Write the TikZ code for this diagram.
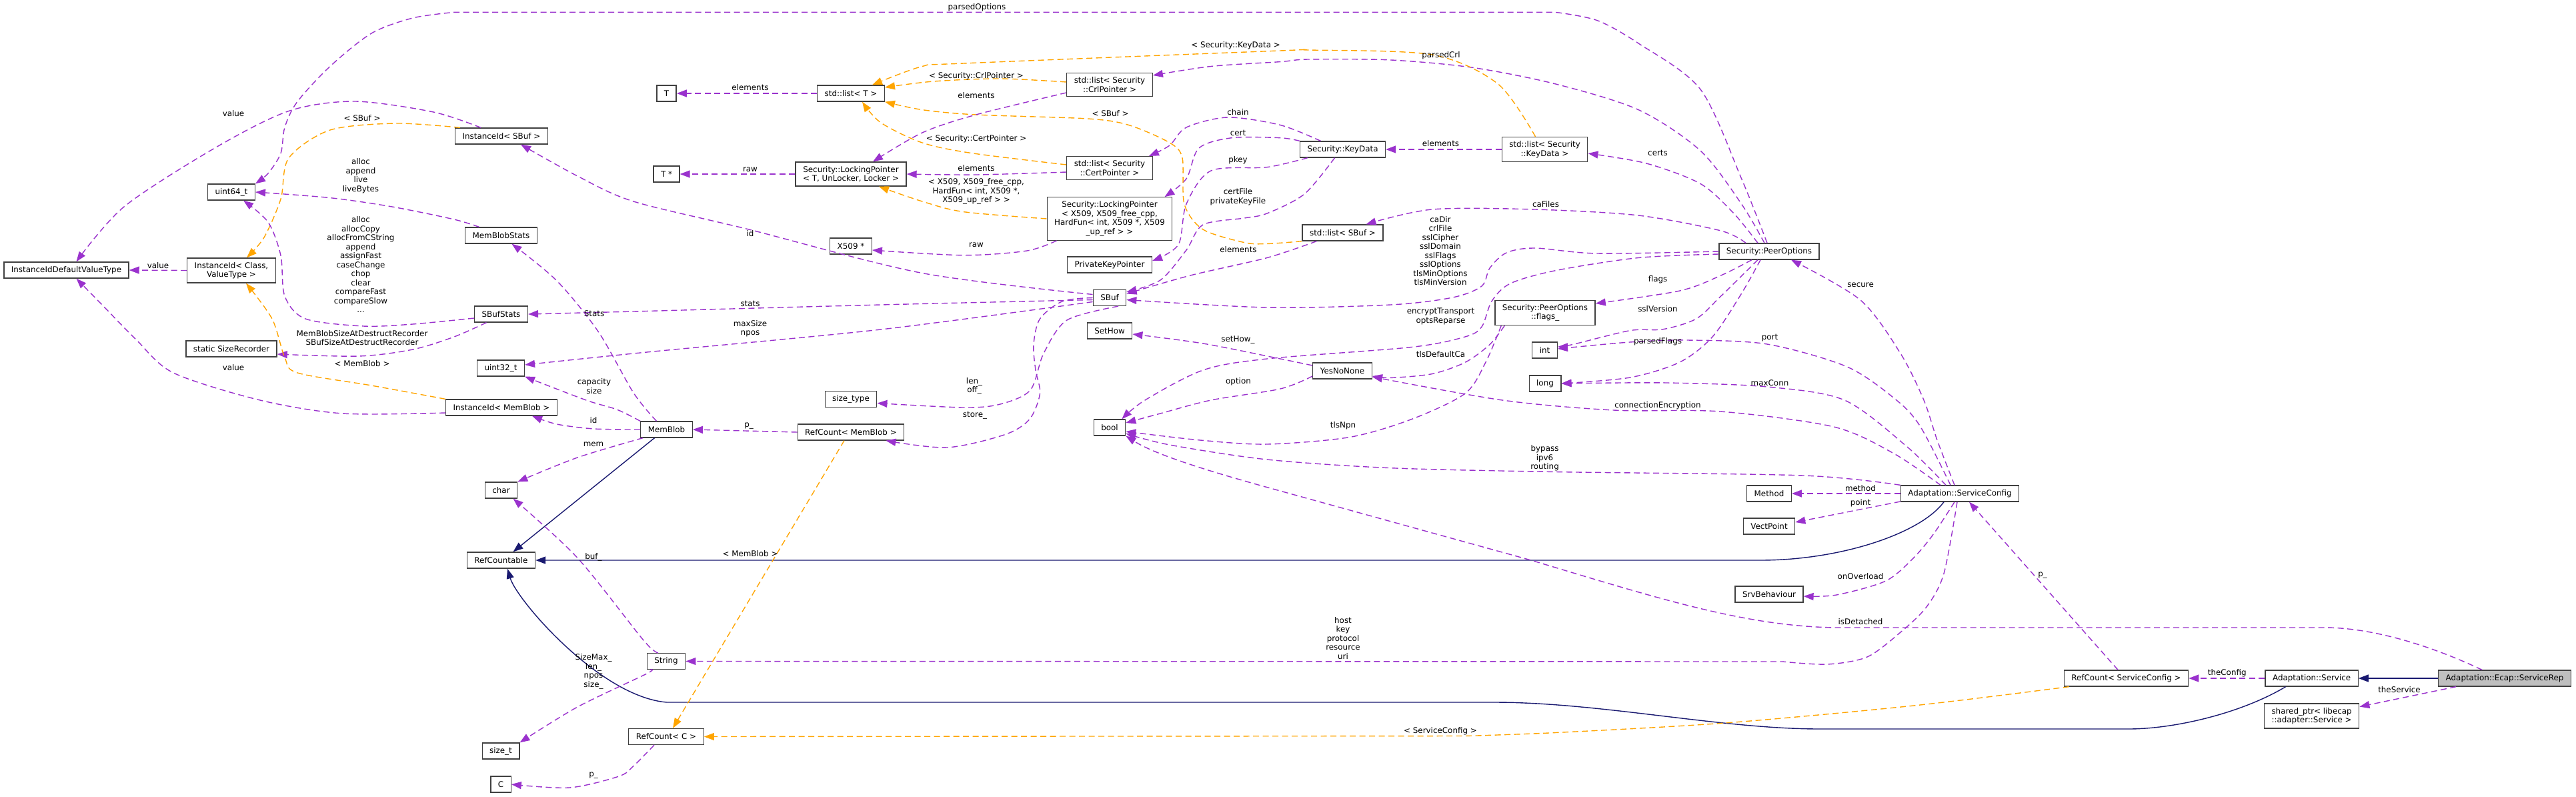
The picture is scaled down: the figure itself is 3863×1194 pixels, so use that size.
\documentclass[tikz,border=0pt]{standalone}
\usepackage{fontspec}
\setmainfont{DejaVu Sans}
\usetikzlibrary{arrows.meta,calc}
\definecolor{dgpurp}{HTML}{9A32CD}
\definecolor{dgorange}{HTML}{FFA500}
\definecolor{dgblue}{HTML}{191970}
\definecolor{dgborder}{HTML}{404040}
\definecolor{dggray}{HTML}{BFBFBF}
\newcommand\dgfont{\fontsize{11.9}{13.5}\selectfont}
\tikzset{
  cls/.style={draw=dgborder, line width=1.3pt, fill=white, font=\dgfont, align=center,
    inner xsep=11pt, inner ysep=6pt, minimum height=24pt},
  lbl/.style={font=\dgfont, align=center, inner sep=0pt},
  mem/.style={draw=dgpurp, line width=1.4pt, dash pattern=on 9pt off 5.5pt,
    -{Triangle[length=15pt,width=11pt]}},
  tmpl/.style={draw=dgorange, line width=1.4pt, dash pattern=on 9pt off 5.5pt,
    -{Triangle[length=15pt,width=11pt]}},
  inh/.style={draw=dgblue, line width=1.4pt, -{Triangle[length=15pt,width=11pt]}}
}
\begin{document}
\begin{tikzpicture}[x=1pt,y=-1pt]
\path[fill=white] (0,0) rectangle (3863,1194);
\useasboundingbox (0,0) rectangle (3863,1194);
% ---------------- nodes ----------------
\node[cls] (ividvt) at (99.5,405) {InstanceIdDefaultValueType};
\node[cls] (uint64) at (347,288) {uint64\_t};
\node[cls] (iidcv) at (347,405.5) {InstanceId< Class,\\ValueType >};
\node[cls] (sizerec) at (347,523) {static SizeRecorder};
\node[cls] (iidsbuf) at (752,204) {InstanceId< SBuf >};
\node[cls] (mbstats) at (751.5,353) {MemBlobStats};
\node[cls] (sbufstats) at (751.5,471) {SBufStats};
\node[cls] (uint32) at (751,552) {uint32\_t};
\node[cls] (iidmb) at (752,611) {InstanceId< MemBlob >};
\node[cls] (char) at (751.5,735) {char};
\node[cls] (refcountable) at (751.5,840) {RefCountable};
\node[cls] (sizet) at (751,1126) {size\_t};
\node[cls] (C) at (751,1176) {C};
\node[cls] (T) at (999.5,140) {T};
\node[cls] (Tstar) at (999.5,261) {T *};
\node[cls] (memblob) at (999.5,644) {MemBlob};
\node[cls] (string) at (999,991.5) {String};
\node[cls] (refcountC) at (999,1104.5) {RefCount< C >};
\node[cls] (listT) at (1276,140) {std::list< T >};
\node[cls] (lockT) at (1276,261) {Security::LockingPointer\\< T, UnLocker, Locker >};
\node[cls] (x509) at (1276,369) {X509 *};
\node[cls] (sizetype) at (1276,598.5) {size\_type};
\node[cls] (refcountMB) at (1276,648) {RefCount< MemBlob >};
\node[cls] (listCrl) at (1664,127) {std::list< Security\\::CrlPointer >};
\node[cls] (listCert) at (1664,252) {std::list< Security\\::CertPointer >};
\node[cls] (lockX) at (1664,328) {Security::LockingPointer\\< X509, X509\_free\_cpp,\\HardFun< int, X509 *, X509\\\_up\_ref > >};
\node[cls] (pkp) at (1664,397) {PrivateKeyPointer};
\node[cls] (sbuf) at (1664,446.5) {SBuf};
\node[cls] (sethow) at (1664,496) {SetHow};
\node[cls] (bool) at (1664,641) {bool};
\node[cls] (keydata) at (2013.5,224) {Security::KeyData};
\node[cls] (listSBuf) at (2013.5,349) {std::list< SBuf >};
\node[cls] (yesno) at (2013,556) {YesNoNone};
\node[cls] (listKey) at (2316.5,224) {std::list< Security\\::KeyData >};
\node[cls] (flags) at (2317,469) {Security::PeerOptions\\::flags\_};
\node[cls] (int) at (2316.5,525) {int};
\node[cls] (long) at (2317,575) {long};
\node[cls] (peeropts) at (2653,377) {Security::PeerOptions};
\node[cls] (method) at (2653,740) {Method};
\node[cls] (vectpoint) at (2653,789) {VectPoint};
\node[cls] (srvbeh) at (2653,891) {SrvBehaviour};
\node[cls] (svccfg) at (2939,740) {Adaptation::ServiceConfig};
\node[cls] (rcsvc) at (3188.5,1017) {RefCount< ServiceConfig >};
\node[cls] (svc) at (3466.6,1017) {Adaptation::Service};
\node[cls] (sharedptr) at (3466.6,1073.6) {shared\_ptr< libecap\\::adapter::Service >};
\node[cls, fill=dggray] (rep) at (3756,1017) {Adaptation::Ecap::ServiceRep};
% ---------------- edges ----------------
% left cluster
\draw[mem] plot[smooth] coordinates {($(iidsbuf.north)+(-31,0)$) (650,168) (532,152) (433,166.5) (322,222) (186,310) ($(ividvt.north)+(15,0)$)};
\draw[tmpl] plot[smooth] coordinates {($(iidsbuf.north)+(-62,0)$) (594,185) (495,195) (433,237) (421,298.5) (396,356) ($(iidcv.north)+(23,0)$)};
\draw[mem] plot[smooth] coordinates {($(mbstats.north)+(-33,0)$) (681,329) (588,310) (495,296.6) (uint64.east)};
\draw[mem] plot[smooth] coordinates {($(sbufstats.west)+(0,6)$) (619,486) (545,489) (458,478) (427,444) (421,383) (402,333) ($(uint64.south)+(18,0)$)};
\draw[mem] (iidcv.west) -- (ividvt.east);
\draw[mem] plot[smooth] coordinates {($(sbufstats.south)+(-22,0)$) (681,505) (619,524) (538,534) ($(sizerec.east)+(0,8)$)};
\draw[mem] plot[smooth] coordinates {($(iidmb.west)+(0,8)$) (514,620) (390,600) (260,559) (204,509) (155,459) ($(ividvt.south)+(15,0)$)};
\draw[tmpl] plot[smooth] coordinates {(iidmb.north west) (557,578) (446,559) (427,536) (408,478) ($(iidcv.south)+(22,0)$)};
\draw[mem] plot[smooth] coordinates {($(sbuf.west)+(0,3)$) (1321,457) (950,467) (sbufstats.east)};
\draw[mem] plot[smooth] coordinates {($(memblob.north)+(-15,0)$) (950,589) (897,497) (835,421) ($(mbstats.south)+(16,0)$)};
\draw[mem] plot[smooth] coordinates {($(sbuf.west)+(0,6)$) (1321,494) (970,528) ($(uint32.east)+(0,-5)$)};
\draw[mem] plot[smooth] coordinates {(memblob.north west) (925,614) (879,600) (uint32.south east)};
\draw[mem] plot[smooth] coordinates {(memblob.west) (891,643) (835,636) ($(iidmb.south)+(46,0)$)};
\draw[mem] plot[smooth] coordinates {($(memblob.south west)+(4,0)$) (866,686) (char.north east)};
\draw[inh] ($(memblob.south)+(-18,0)$) -- ($(refcountable.north)+(18,0)$);
\draw[mem] plot[smooth] coordinates {($(string.north)+(-12,0)$) (965,960) (866,836.5) ($(char.south)+(18,0)$)};
\draw[inh] ($(svccfg.south)+(-24,0)$) .. controls (2880,800) and (2760,840) .. (2640,840) -- (refcountable.east);
\draw[inh] ($(svc.south)+(-39,0)$) .. controls (3360,1070) and (3260,1093) .. (3192,1093) -- (2729,1093)
   .. controls (2580,1093) and (2400,1053) .. (2240,1053) -- (1000,1053)
   .. controls (900,1045) and (775,900) .. ($(refcountable.south)+(9.5,0)$);
\draw[mem] plot[smooth] coordinates {($(svccfg.south)+(-4,0)$) (2915,860) (2889,910) (2850,948) (2800,985) (2740,996) (2673,992)} -- (string.east);
\draw[mem] plot[smooth] coordinates {($(string.south)+(-24,0)$) (970,1010) (866,1060) (sizet.north east)};
\draw[mem] plot[smooth] coordinates {($(refcountC.south)+(-18,0)$) (950,1148.5) (928,1164) (854,1181) (C.east)};
\draw[mem] (refcountMB.west) -- (memblob.east);
\draw[tmpl] ($(refcountMB.south)+(-10,0)$) -- ($(refcountC.north)+(10,0)$);
\draw[tmpl] plot[smooth] coordinates {($(rcsvc.south west)+(8,0)$) (2870,1058) (2587,1084) (2333,1098.5) (2197,1103.5)} -- (refcountC.east);
\draw[mem] ($(rcsvc.north)+(-12.5,0)$) -- ($(svccfg.south)+(14,0)$);
\draw[mem] (svc.west) -- (rcsvc.east);
\draw[inh] (rep.west) -- (svc.east);
\draw[mem] ($(rep.south)+(-73,0)$) -- ($(sharedptr.east)+(0,-14)$);
\draw[mem] ($(rep.north)+(-34,0)$) .. controls (3650,970) and (3560,941) .. (3486,941) -- (2760,941)
   .. controls (2620,941) and (2480,895) .. (2296,840) -- (1900,730.6)
   .. controls (1800,703) and (1730,680) .. (bool.south east);
% ServiceConfig members
\draw[mem] plot[smooth] coordinates {(svccfg.north west) (2704,713) (2333,707.5) (2086,701.7) (1900,689) (1754,667) ($(bool.east)+(0,9)$)};
\draw[mem] plot[smooth] coordinates {($(svccfg.north)+(-29,0)$) (2840,680) (2750,640) (2580,617) (2420,615) (2253,600) ($(yesno.east)+(0,9)$)};
\draw[mem] plot[smooth] coordinates {($(svccfg.north)+(-21,0)$) (2860,670) (2766,600) (2650,580) (2500,574) (long.east)};
\draw[mem] plot[smooth] coordinates {($(svccfg.north)+(-14,0)$) (2880,640) (2844,600) (2770,550) (2650,516) (2530,510) (2444,513) ($(int.east)+(0,-2)$)};
\draw[mem] plot[smooth] coordinates {($(svccfg.north)+(-8,0)$) (2905,660) (2885,600) (2850,530) (2790,450) ($(peeropts.south)+(33,0)$)};
\draw[mem] (svccfg.west) -- (method.east);
\draw[mem] ($(svccfg.west)+(0,12)$) -- ($(vectpoint.east)+(0,-6)$);
\draw[mem] plot[smooth] coordinates {($(svccfg.south)+(-8,0)$) (2900,800) (2870,836) (2828,871) (2754,892) ($(srvbeh.east)+(0,3)$)};
% PeerOptions members
\draw[mem] plot[smooth] coordinates {($(peeropts.north)+(-17,0)$) (2600,320) (2550,275.5) (2469,245) ($(listKey.east)+(0,6)$)};
\draw[mem] plot[smooth] coordinates {($(peeropts.north)+(-35,0)$) (2580.7,346) (2457,323) (2302,314) (2147.5,314) ($(listSBuf.north)+(35,0)$)};
\draw[mem] plot[smooth] coordinates {($(peeropts.north)+(-7,0)$) (2611.6,306) (2550,226) (2457,164.6) (2333,126) (2209,101.4) (2086,90) (1962,89) (1920,92.6) (1816,99.5) ($(listCrl.east)+(0,-14)$)};
\draw[mem] plot[smooth] coordinates {($(peeropts.north)+(-3,0)$) (2611.6,268) (2550,134) (2457,65) (2395,30.6) (2333,18.4)} -- plot[smooth] coordinates {(680.7,18.4) (619,27) (557,50) (495,99.5) (445.5,153) (427,191) (421,230) (402,260) (uint64.north east)};
\draw[mem] plot[smooth] coordinates {(peeropts.west) (2395,380) (2302,372) (2259,379) (2234,402) (2222,429) (2178.5,446) (2085.6,457) (1900,461) ($(sbuf.east)+(0,3)$)};
\draw[mem] plot[smooth] coordinates {($(peeropts.west)+(0,4)$) (2457,386.5) (2333,405.6) (2265,425) (2237,451.6) (2222,490) (2197,505) (2116.6,520.5) (1900,538) (1804,555) (1717,600) ($(bool.north east)+(-6,0)$)};
\draw[mem] plot[smooth] coordinates {($(peeropts.south)+(-26,0)$) (2580.7,413) (2519,436) ($(flags.east)+(0,-14)$)};
\draw[mem] plot[smooth] coordinates {($(peeropts.south)+(-17,0)$) (2580.7,444) (2543.6,478) (2494,493.7) (2444.6,495.6) (2358,516.6) ($(int.east)+(0,-5)$)};
\draw[mem] plot[smooth] coordinates {($(peeropts.south)+(-13,0)$) (2611.6,440) (2568,505) (2519,543) (2444.6,566) (long.east)};
% YesNoNone, flags_
\draw[mem] plot[smooth] coordinates {($(yesno.west)+(0,-8)$) (1920,538) (1804,515) ($(sethow.east)+(0,5)$)};
\draw[mem] plot[smooth] coordinates {($(yesno.west)+(0,8)$) (1920,583) (1816,600) (1740,620) ($(bool.east)+(0,-7)$)};
\draw[mem] plot[smooth] coordinates {($(flags.south west)+(15,0)$) (2234,516.6) (2197,543.4) (2147.5,560.6) (2086,566.4) ($(yesno.east)+(0,8)$)};
\draw[mem] plot[smooth] coordinates {($(flags.south west)+(10,0)$) (2228,543) (2197,590) (2117,628.5) (2024,655.5) (1900,666) (1800,660) ($(bool.east)+(0,6)$)};
% KeyData
\draw[mem] plot[smooth] coordinates {($(keydata.north)+(-33,0)$) (1920,187.5) (1841,176) (1779,191) (1754,218) ($(listCert.north east)+(-6,0)$)};
\draw[mem] plot[smooth] coordinates {(keydata.north west) (1920,206.7) (1847,206.7) (1798,222) (1779,268) ($(lockX.north east)+(-12,0)$)};
\draw[mem] plot[smooth] coordinates {($(keydata.south west)+(12,0)$) (1900,250.7) (1816,256) (1779,306) (1767,367) ($(pkp.east)+(0,-6)$)};
\draw[mem] plot[smooth] coordinates {($(keydata.south)+(-12,0)$) (1956,291) (1900,320) (1866,327) (1804,337) (1779,375) (1740,420) ($(sbuf.north east)+(0,4)$)};
\draw[mem] (listKey.west) -- (keydata.east);
\draw[tmpl] plot[smooth] coordinates {($(listKey.north)+(-14,0)$) (2246.5,126) (2147.5,82) (1962,75) (1920,76) (1445,95) (1383,99.5) ($(listT.north east)+(-19,0)$)};
\draw[mem] plot[smooth] coordinates {($(listSBuf.south west)+(22,0)$) (1900,386.5) (1785,413) ($(sbuf.east)+(0,-6)$)};
\draw[tmpl] plot[smooth] coordinates {(listSBuf.south west) (1900,365.5) (1866,363.6) (1804,344) (1776,306) (1773,237) (1754,214) (1692.6,187.5) (1631,178) (1463.6,172) (1383,164.6) (listT.south east)};
\draw[tmpl] plot[smooth] coordinates {($(listCrl.west)+(0,-4)$) (1500,118) (1400,122) ($(listT.east)+(0,-9)$)};
\draw[mem] plot[smooth] coordinates {($(listCrl.west)+(0,12)$) (1463.6,172) (1383,199) ($(lockT.north)+(33,0)$)};
\draw[tmpl] plot[smooth] coordinates {($(listCert.west)+(0,-5)$) (1457,229.6) (1383,214) (1321,184) ($(listT.south)+(17,0)$)};
\draw[mem] plot[smooth] coordinates {($(listCert.west)+(0,6)$) (1464,262) (lockT.east)};
\draw[tmpl] plot[smooth] coordinates {(lockX.west) (1445,317.6) (1383,302) ($(lockT.south)+(42,0)$)};
\draw[mem] (lockT.west) -- (Tstar.east);
\draw[mem] (listT.west) -- (T.east);
\draw[mem] plot[smooth] coordinates {($(lockX.south west)+(15,0)$) (1540,376) (1445,382.7) ($(x509.east)+(0,6)$)};
\draw[mem] plot[smooth] coordinates {($(sbuf.west)+(0,-5)$) (1383,409.5) (1123,344) (950,302) (866,264) ($(iidsbuf.south)+(29,0)$)};
\draw[mem] plot[smooth] coordinates {(sbuf.west) (1593.6,451.6) (1559.5,478) (1550,516.6) (1553,555) (1559.5,590) (1544,628.5) (1507,651.6) (1420,671) ($(refcountMB.south east)+(-28,0)$)};
\draw[mem] plot[smooth] coordinates {($(sbuf.south)+(13,0)$) (1600,480) (1565,530) (1545,585) (1500,606) (1445,611) ($(sizetype.east)+(0,6)$)};
% ---------------- labels ----------------
\node[lbl] (l1) at (350,170) {value};
\node[lbl] (l2) at (543,177) {< SBuf >};
\node[lbl] (l3) at (541,263.5) {alloc\\append\\live\\liveBytes};
\node[lbl] (l4) at (541,396.5) {alloc\\allocCopy\\allocFromCString\\append\\assignFast\\caseChange\\chop\\clear\\compareFast\\compareSlow\\...};
\node[lbl] (l5) at (237,398) {value};
\node[lbl] (l6) at (543,506.5) {MemBlobSizeAtDestructRecorder\\SBufSizeAtDestructRecorder};
\node[lbl] (l7) at (350,551) {value};
\node[lbl] (l8) at (543,545) {< MemBlob >};
\node[lbl] (l9) at (1125,455) {stats};
\node[lbl] (l10) at (891,470) {Stats};
\node[lbl] (l11) at (1125,492.5) {maxSize\\npos};
\node[lbl] (l12) at (891,579) {capacity\\size};
\node[lbl] (l13) at (890,630) {id};
\node[lbl] (l14) at (890,666) {mem};
\node[lbl] (l15) at (890,835) {buf\_};
\node[lbl] (l16) at (890,1007) {SizeMax\_\\len\_\\npos\\size\_};
\node[lbl] (l17) at (890,1163) {p\_};
\node[lbl] (l18) at (1123,639) {p\_};
\node[lbl] (l19) at (1125,830) {< MemBlob >};
\node[lbl] (l20) at (1462,623) {store\_};
\node[lbl] (l21) at (1461,579) {len\_\\off\_};
\node[lbl] (l22) at (2160,1096) {< ServiceConfig >};
\node[lbl] (l23) at (3063,862.7) {p\_};
\node[lbl] (l24) at (3339.7,1009) {theConfig};
\node[lbl] (l25) at (3598,1033.7) {theService};
\node[lbl] (l26) at (2790,931.7) {isDetached};
\node[lbl] (l27) at (2014,957) {host\\key\\protocol\\resource\\uri};
\node[lbl] (l28) at (2316.5,687) {bypass\\ipv6\\routing};
\node[lbl] (l29) at (2486,608) {connectionEncryption};
\node[lbl] (l30) at (2654,574) {maxConn};
\node[lbl] (l31) at (2654,507) {port};
\node[lbl] (l32) at (2790,427) {secure};
\node[lbl] (l33) at (2790,732) {method};
\node[lbl] (l34) at (2790,754) {point};
\node[lbl] (l35) at (2790,864) {onOverload};
\node[lbl] (l36) at (2486,229.6) {certs};
\node[lbl] (l37) at (2318,306) {caFiles};
\node[lbl] (l38) at (2161,83) {parsedCrl};
\node[lbl] (l39) at (1465,11) {parsedOptions};
\node[lbl] (l40) at (2160,376) {caDir\\crlFile\\sslCipher\\sslDomain\\sslFlags\\sslOptions\\tlsMinOptions\\tlsMinVersion};
\node[lbl] (l41) at (2160.5,474.5) {encryptTransport\\optsReparse};
\node[lbl] (l42) at (2486,419) {flags};
\node[lbl] (l43) at (2486,463.5) {sslVersion};
\node[lbl] (l44) at (2486,512) {parsedFlags};
\node[lbl] (l45) at (1856.5,510) {setHow\_};
\node[lbl] (l46) at (1857,572) {option};
\node[lbl] (l47) at (2160.5,531) {tlsDefaultCa};
\node[lbl] (l48) at (2014,638) {tlsNpn};
\node[lbl] (l49) at (1856.5,168) {chain};
\node[lbl] (l50) at (1856.5,199) {cert};
\node[lbl] (l51) at (1856.5,240) {pkey};
\node[lbl] (l52) at (1856.5,295) {certFile\\privateKeyFile};
\node[lbl] (l53) at (2160.5,215.5) {elements};
\node[lbl] (l54) at (1853,68) {< Security::KeyData >};
\node[lbl] (l55) at (1857,374) {elements};
\node[lbl] (l56) at (1665,170) {< SBuf >};
\node[lbl] (l57) at (1464,114) {< Security::CrlPointer >};
\node[lbl] (l58) at (1464,143) {elements};
\node[lbl] (l59) at (1464,208) {< Security::CertPointer >};
\node[lbl] (l60) at (1464,252) {elements};
\node[lbl] (l61) at (1464,287) {< X509, X509\_free\_cpp,\\HardFun< int, X509 *,\\X509\_up\_ref > >};
\node[lbl] (l62) at (1125,254) {raw};
\node[lbl] (l63) at (1125,131) {elements};
\node[lbl] (l64) at (1464,367) {raw};
\node[lbl] (l65) at (1125,350.5) {id};
\end{tikzpicture}
\end{document}
